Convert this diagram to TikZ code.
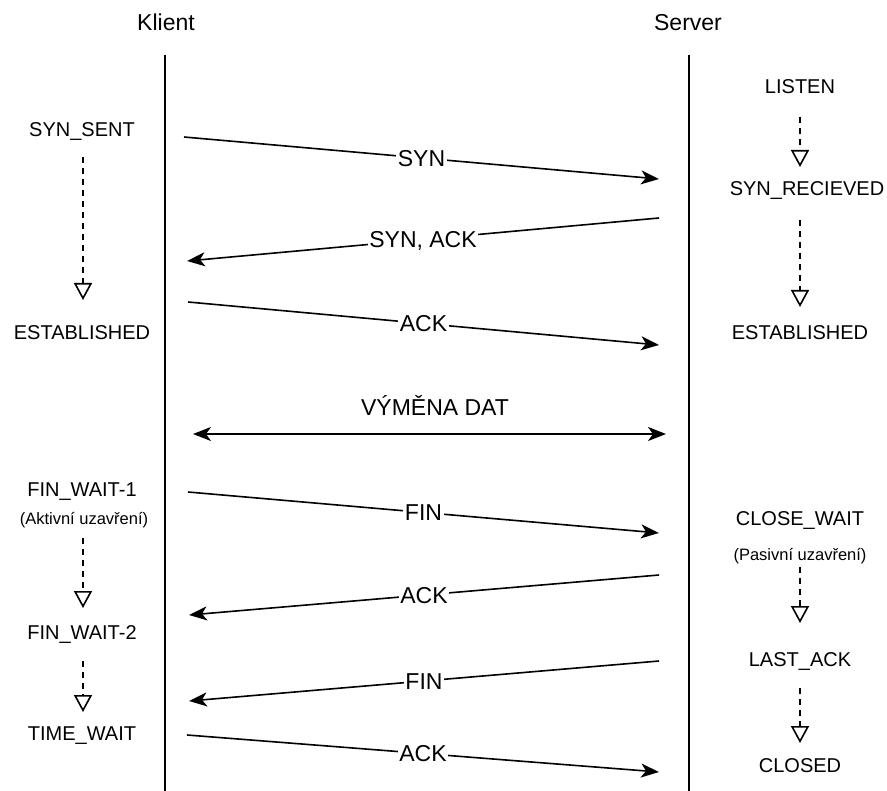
\documentclass[tikz,border=0pt]{standalone}
\usepackage{fontspec}
\setmainfont{Liberation Sans}
\usetikzlibrary{arrows.meta}
\begin{document}
\begin{tikzpicture}[x=1pt,y=-1pt,
  st/.style={font=\fontsize{20}{24}\selectfont, text height=14.3pt, text depth=0pt, inner sep=0pt},
  hd/.style={font=\fontsize{23}{28}\selectfont, text height=16.5pt, text depth=0pt, inner sep=0pt},
  sm/.style={font=\fontsize{16.5}{20}\selectfont, text height=11.8pt, text depth=0pt, inner sep=0pt},
  life/.style={line width=1.6pt},
  msg/.style={line width=1.6pt, -{Stealth[length=18pt,width=14pt,inset=5pt]}},
  dmsg/.style={line width=1.6pt, {Stealth[length=18pt,width=14pt,inset=5pt]}-{Stealth[length=18pt,width=14pt,inset=5pt]}},
  lbl/.style={fill=white, inner sep=1.5pt, font=\fontsize{23}{28}\selectfont, text height=16.5pt, text depth=0pt},
  trans/.style={line width=1.6pt, dash pattern=on 6pt off 5pt, -{Triangle[open,length=17pt,width=18pt]}}
]
\useasboundingbox (0,0) rectangle (887,791);
\fill[white] (0,0) rectangle (887,791);

% headers
\node[hd] (klient) at (166,22) {Klient};
\node[hd] (server) at (688,22) {Server};

% lifelines
\coordinate (kt) at (165,55); \coordinate (kb) at (165,791);
\coordinate (st) at (689,55); \coordinate (sb) at (689,791);
\draw[life] (kt) -- (kb);
\draw[life] (st) -- (sb);

% client states
\node[st] (ssent) at (82,129) {SYN\_SENT};
\node[st] (cest) at (82,332) {ESTABLISHED};
\node[st] (fw1) at (82,489) {FIN\_WAIT-1};
\node[sm] (akt) at (84,519) {(Aktivní uzavření)};
\node[st] (fw2) at (82,632) {FIN\_WAIT-2};
\node[st] (tw) at (82,733) {TIME\_WAIT};

% server states
\node[st] (listen) at (800,86) {LISTEN};
\node[st] (srec) at (807,188) {SYN\_RECIEVED};
\node[st] (sest) at (800,332) {ESTABLISHED};
\node[st] (cw) at (800,518) {CLOSE\_WAIT};
\node[sm] (pas) at (800,555) {(Pasivní uzavření)};
\node[st] (la) at (800,659) {LAST\_ACK};
\node[st] (closed) at (800,765) {CLOSED};

% state transitions
\coordinate (a1) at (83,157); \coordinate (a2) at (83,300);
\coordinate (a3) at (83,538); \coordinate (a4) at (83,608);
\coordinate (a5) at (83,661); \coordinate (a6) at (83,712);
\draw[trans] (a1) -- (a2);
\draw[trans] (a3) -- (a4);
\draw[trans] (a5) -- (a6);
\coordinate (b1) at (800,117); \coordinate (b2) at (800,167);
\coordinate (b3) at (800,220); \coordinate (b4) at (800,307);
\coordinate (b5) at (800,567); \coordinate (b6) at (800,623);
\coordinate (b7) at (800,688); \coordinate (b8) at (800,743);
\draw[trans] (b1) -- (b2);
\draw[trans] (b3) -- (b4);
\draw[trans] (b5) -- (b6);
\draw[trans] (b7) -- (b8);

% messages
\coordinate (m1s) at (184,137); \coordinate (m1e) at (659,179);
\coordinate (m2s) at (659,218); \coordinate (m2e) at (187,261);
\coordinate (m3s) at (188,302); \coordinate (m3e) at (659,345);
\coordinate (m4s) at (193,434); \coordinate (m4e) at (666,434);
\coordinate (m5s) at (188,492); \coordinate (m5e) at (659,533);
\coordinate (m6s) at (659,575); \coordinate (m6e) at (189,615);
\coordinate (m7s) at (659,661); \coordinate (m7e) at (189,701);
\coordinate (m8s) at (187,735); \coordinate (m8e) at (659,772);

\draw[msg] (m1s) -- node[lbl] (l1) {SYN} (m1e);
\draw[msg] (m2s) -- node[lbl] (l2) {SYN, ACK} (m2e);
\draw[msg] (m3s) -- node[lbl] (l3) {ACK} (m3e);
\draw[dmsg] (m4s) -- (m4e);
\node[hd] (vd) at (435,407) {VÝMĚNA DAT};
\draw[msg] (m5s) -- node[lbl] (l5) {FIN} (m5e);
\draw[msg] (m6s) -- node[lbl] (l6) {ACK} (m6e);
\draw[msg] (m7s) -- node[lbl] (l7) {FIN} (m7e);
\draw[msg] (m8s) -- node[lbl] (l8) {ACK} (m8e);
\end{tikzpicture}
\end{document}
